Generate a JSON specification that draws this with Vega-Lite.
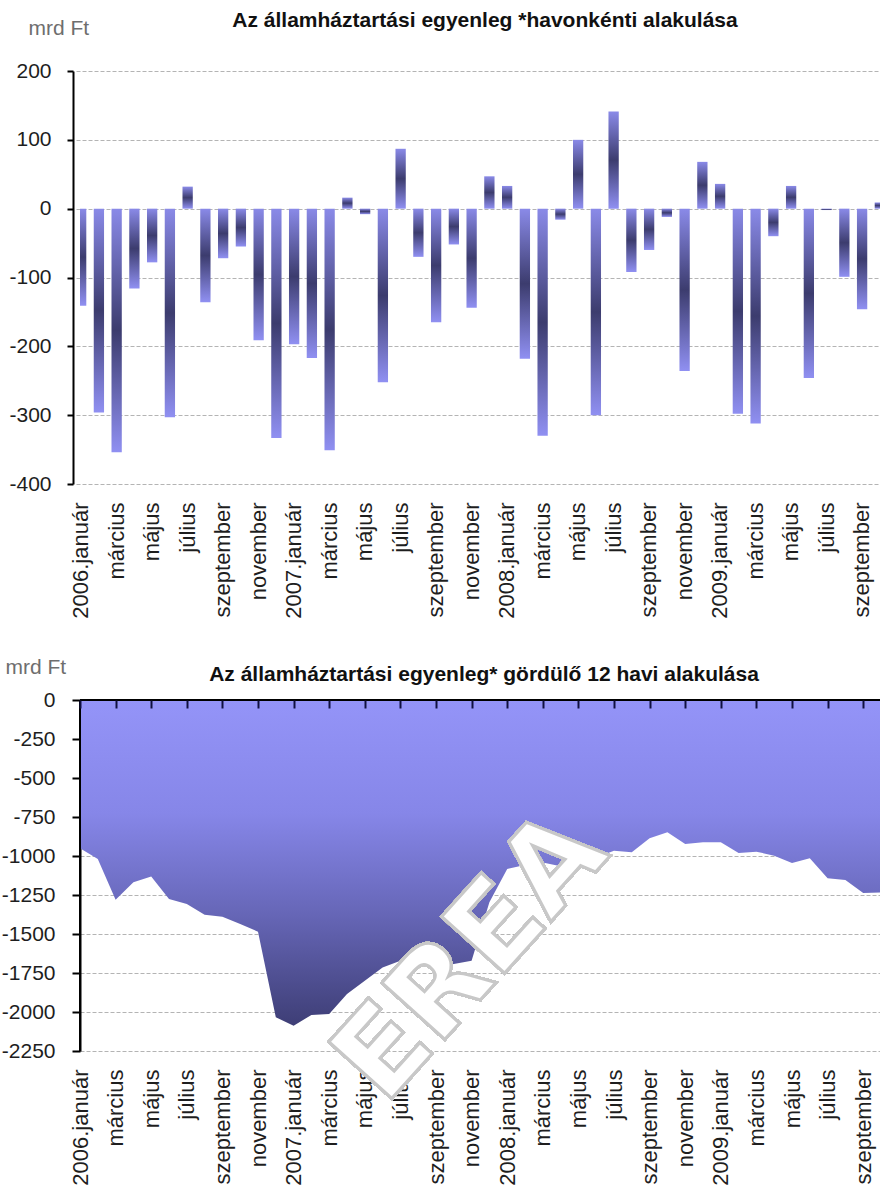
{
  "$schema": "https://vega.github.io/schema/vega-lite/v6.json",
  "background": "white",
  "padding": {"left": 1, "top": 10, "right": 0, "bottom": 0},
  "spacing": 37,
  "config": {
    "font": "Liberation Sans",
    "view": {"stroke": null},
    "axis": {
      "labelFont": "Liberation Sans",
      "labelFontSize": 21,
      "labelColor": "#1e1e1e",
      "labelOverlap": false,
      "titleFont": "Liberation Sans",
      "titleFontWeight": "normal",
      "titleFontSize": 21,
      "titleColor": "#6e6e6e"
    },
    "title": {"font": "Liberation Sans", "fontSize": 21, "fontWeight": "bold", "color": "#111111"}
  },
  "datasets": {
    "havi": [
      {"ho": "2006-01", "egyenleg": -141, "gordulo": -951},
      {"ho": "2006-02", "egyenleg": -296, "gordulo": -1019},
      {"ho": "2006-03", "egyenleg": -354, "gordulo": -1280},
      {"ho": "2006-04", "egyenleg": -116, "gordulo": -1169},
      {"ho": "2006-05", "egyenleg": -78, "gordulo": -1132},
      {"ho": "2006-06", "egyenleg": -303, "gordulo": -1276},
      {"ho": "2006-07", "egyenleg": 32, "gordulo": -1308},
      {"ho": "2006-08", "egyenleg": -136, "gordulo": -1376},
      {"ho": "2006-09", "egyenleg": -72, "gordulo": -1389},
      {"ho": "2006-10", "egyenleg": -55, "gordulo": -1436},
      {"ho": "2006-11", "egyenleg": -191, "gordulo": -1485},
      {"ho": "2006-12", "egyenleg": -333, "gordulo": -2034},
      {"ho": "2007-01", "egyenleg": -197, "gordulo": -2088},
      {"ho": "2007-02", "egyenleg": -217, "gordulo": -2019},
      {"ho": "2007-03", "egyenleg": -351, "gordulo": -2013},
      {"ho": "2007-04", "egyenleg": 16, "gordulo": -1885},
      {"ho": "2007-05", "egyenleg": -8, "gordulo": -1799},
      {"ho": "2007-06", "egyenleg": -252, "gordulo": -1714},
      {"ho": "2007-07", "egyenleg": 87, "gordulo": -1671},
      {"ho": "2007-08", "egyenleg": -70, "gordulo": -1618},
      {"ho": "2007-09", "egyenleg": -165, "gordulo": -1703},
      {"ho": "2007-10", "egyenleg": -52, "gordulo": -1692},
      {"ho": "2007-11", "egyenleg": -144, "gordulo": -1671},
      {"ho": "2007-12", "egyenleg": 47, "gordulo": -1297},
      {"ho": "2008-01", "egyenleg": 33, "gordulo": -1083},
      {"ho": "2008-02", "egyenleg": -218, "gordulo": -1058},
      {"ho": "2008-03", "egyenleg": -330, "gordulo": -1041},
      {"ho": "2008-04", "egyenleg": -16, "gordulo": -1066},
      {"ho": "2008-05", "egyenleg": 100, "gordulo": -972},
      {"ho": "2008-06", "egyenleg": -300, "gordulo": -1009},
      {"ho": "2008-07", "egyenleg": 141, "gordulo": -966},
      {"ho": "2008-08", "egyenleg": -92, "gordulo": -976},
      {"ho": "2008-09", "egyenleg": -60, "gordulo": -887},
      {"ho": "2008-10", "egyenleg": -12, "gordulo": -848},
      {"ho": "2008-11", "egyenleg": -236, "gordulo": -923},
      {"ho": "2008-12", "egyenleg": 68, "gordulo": -912},
      {"ho": "2009-01", "egyenleg": 36, "gordulo": -912},
      {"ho": "2009-02", "egyenleg": -298, "gordulo": -981},
      {"ho": "2009-03", "egyenleg": -312, "gordulo": -972},
      {"ho": "2009-04", "egyenleg": -40, "gordulo": -998},
      {"ho": "2009-05", "egyenleg": 33, "gordulo": -1045},
      {"ho": "2009-06", "egyenleg": -246, "gordulo": -1015},
      {"ho": "2009-07", "egyenleg": -2, "gordulo": -1143},
      {"ho": "2009-08", "egyenleg": -99, "gordulo": -1154},
      {"ho": "2009-09", "egyenleg": -146, "gordulo": -1237},
      {"ho": "2009-10", "egyenleg": 9, "gordulo": -1233}
    ]
  },
  "vconcat": [
    {
      "width": 800,
      "height": 413,
      "data": {"name": "havi"},
      "title": {
        "text": "Az államháztartási egyenleg *havonkénti alakulása",
        "anchor": "middle",
        "dx": 5,
        "offset": -14
      },
      "mark": {
        "type": "bar",
        "clip": true,
        "color": {
          "gradient": "linear",
          "x1": 0, "y1": 0, "x2": 0, "y2": 1,
          "stops": [
            {"offset": 0, "color": "#8a8ae8"},
            {"offset": 0.5, "color": "#3c3c6e"},
            {"offset": 1, "color": "#9090f2"}
          ]
        }
      },
      "encoding": {
        "x": {
          "field": "ho",
          "type": "ordinal",
          "scale": {"range": [-4, 805], "paddingInner": 0.42, "paddingOuter": 0},
          "axis": {
            "title": null,
            "domain": false,
            "ticks": false,
            "labelAngle": -90,
            "labelFontSize": 22,
            "labelPadding": 18,
            "values": ["2006-01", "2006-03", "2006-05", "2006-07", "2006-09", "2006-11",
                       "2007-01", "2007-03", "2007-05", "2007-07", "2007-09", "2007-11",
                       "2008-01", "2008-03", "2008-05", "2008-07", "2008-09", "2008-11",
                       "2009-01", "2009-03", "2009-05", "2009-07", "2009-09"],
            "labelExpr": "(toNumber(slice(datum.value, 5)) == 1 ? slice(datum.value, 0, 4) + '.' : '') + ['január','február','március','április','május','június','július','augusztus','szeptember','október','november','december'][toNumber(slice(datum.value, 5)) - 1]"
          }
        },
        "y": {
          "field": "egyenleg",
          "type": "quantitative",
          "scale": {"domain": [-400, 200], "nice": false, "zero": true},
          "axis": {
            "values": [-400, -300, -200, -100, 0, 100, 200],
            "labelExpr": "datum.value < 0 ? '-' + abs(datum.value) : '' + datum.value",
            "offset": 7,
            "domainColor": "#000000",
            "domainWidth": 2,
            "tickColor": "#000000",
            "tickWidth": 2,
            "tickSize": 6,
            "labelPadding": 16,
            "grid": true,
            "gridColor": "#b4b4b4",
            "gridDash": [4, 2],
            "gridWidth": 1,
            "title": "mrd Ft",
            "titleAngle": 0,
            "titleAlign": "left",
            "titleBaseline": "alphabetic",
            "titleX": -45,
            "titleY": -37
          }
        }
      }
    },
    {
      "width": 800,
      "height": 351,
      "data": {"name": "havi"},
      "title": {
        "text": "Az államháztartási egyenleg* gördülő 12 havi alakulása",
        "anchor": "middle",
        "dx": 4,
        "offset": -29
      },
      "layer": [
        {
          "mark": {
            "type": "area",
            "clip": true,
            "color": {
              "gradient": "linear",
              "x1": 0, "y1": 0, "x2": 0, "y2": 1,
              "stops": [
                {"offset": 0, "color": "#9494f8"},
                {"offset": 0.35, "color": "#8686e8"},
                {"offset": 0.65, "color": "#6767b8"},
                {"offset": 1, "color": "#3e3e76"}
              ]
            }
          },
          "encoding": {
            "x": {
              "field": "ho",
              "type": "ordinal",
              "scale": {"type": "point", "range": [0, 801], "padding": 0},
              "axis": {
                "orient": "bottom",
                "title": null,
                "domain": false,
                "ticks": false,
                "labelAngle": -90,
                "labelFontSize": 22,
                "labelPadding": 18,
                "values": ["2006-01", "2006-03", "2006-05", "2006-07", "2006-09", "2006-11",
                           "2007-01", "2007-03", "2007-05", "2007-07", "2007-09", "2007-11",
                           "2008-01", "2008-03", "2008-05", "2008-07", "2008-09", "2008-11",
                           "2009-01", "2009-03", "2009-05", "2009-07", "2009-09"],
                "labelExpr": "(toNumber(slice(datum.value, 5)) == 1 ? slice(datum.value, 0, 4) + '.' : '') + ['január','február','március','április','május','június','július','augusztus','szeptember','október','november','december'][toNumber(slice(datum.value, 5)) - 1]"
              }
            },
            "y": {
              "field": "gordulo",
              "type": "quantitative",
              "scale": {"domain": [-2250, 0], "nice": false},
              "axis": {
                "values": [-2250, -2000, -1750, -1500, -1250, -1000, -750, -500, -250, 0],
                "labelExpr": "datum.value < 0 ? '-' + abs(datum.value) : '' + datum.value",
                "labelOverlap": false,
                "domainColor": "#000000",
                "domainWidth": 2,
                "tickColor": "#000000",
                "tickWidth": 2,
                "tickSize": 8,
                "labelPadding": 17,
                "grid": true,
                "gridColor": "#b4b4b4",
                "gridDash": [4, 2],
                "gridWidth": 1,
                "title": "mrd Ft",
                "titleAngle": 0,
                "titleAlign": "left",
                "titleBaseline": "alphabetic",
                "titleX": -75,
                "titleY": -27
              }
            }
          }
        },
        {
          "mark": {"type": "line", "color": "#000000", "strokeWidth": 2},
          "encoding": {
            "x": {
              "field": "ho",
              "type": "ordinal",
              "axis": {
                "orient": "top",
                "title": null,
                "labels": false,
                "domain": false,
                "ticks": true,
                "tickSize": -8,
                "tickWidth": 2,
                "tickColor": "#101040",
                "zindex": 1,
                "values": ["2006-01", "2006-03", "2006-05", "2006-07", "2006-09", "2006-11",
                           "2007-01", "2007-03", "2007-05", "2007-07", "2007-09", "2007-11",
                           "2008-01", "2008-03", "2008-05", "2008-07", "2008-09", "2008-11",
                           "2009-01", "2009-03", "2009-05", "2009-07", "2009-09"]
              }
            },
            "y": {"datum": 0, "axis": null}
          }
        },
        {
          "mark": {"type": "rule", "color": "#000000", "strokeWidth": 2},
          "encoding": {
            "x": {"datum": "2006-01", "type": "ordinal", "axis": null},
            "y": {"datum": 0, "axis": null},
            "y2": {"datum": -2250}
          }
        },
        {
          "mark": {
            "type": "text",
            "text": "EREA",
            "angle": -48,
            "align": "center",
            "baseline": "middle",
            "font": "DejaVu Sans",
            "fontWeight": "bold",
            "fontSize": 116,
            "fill": "#ffffff",
            "stroke": "#c8c8c8",
            "strokeWidth": 3
          },
          "encoding": {
            "x": {"datum": "2007-11", "type": "ordinal", "axis": null},
            "y": {"datum": -1650, "axis": null}
          }
        }
      ],
      "resolve": {"axis": {"x": "independent", "y": "independent"}}
    }
  ]
}
